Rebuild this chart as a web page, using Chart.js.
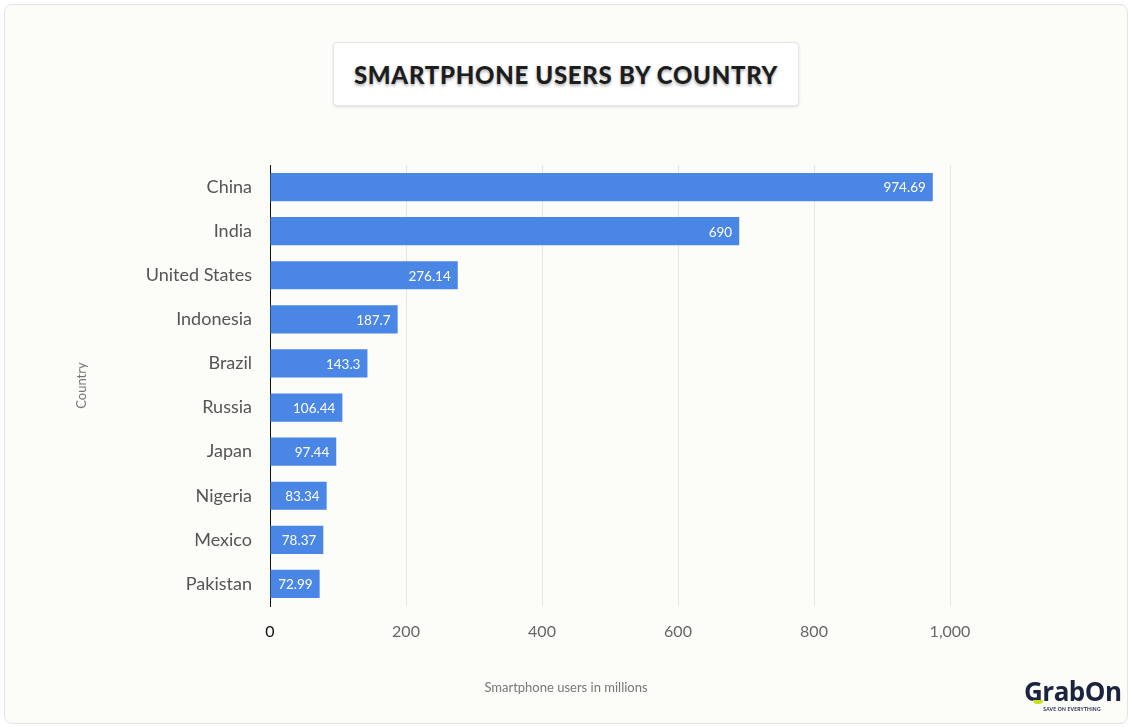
<!DOCTYPE html>
<html>
<head>
<meta charset="utf-8">
<script src="https://cdn.jsdelivr.net/npm/chart.js@4.4.1/dist/chart.umd.min.js"></script>
<style>
  html, body { margin: 0; padding: 0; background: #ffffff; }
  body { width: 1132px; height: 728px; position: relative; overflow: hidden; font-family: Lato, "Noto Sans", sans-serif; }
  .card { position: absolute; left: 4px; top: 4px; width: 1122px; height: 718px; background: #fcfcf8; border: 1px solid #e4e4e0; border-radius: 8px; }
  .title { position: absolute; left: 333px; top: 42px; width: 464px; height: 62px; background: #fff; border: 1px solid #e6e6e6; border-radius: 4px; box-shadow: 0 1px 3px rgba(0,0,0,0.12); display: flex; align-items: center; justify-content: center; font-weight: 900; font-size: 24px; color: #1d1d1d; letter-spacing: 0.7px; text-shadow: 0 2px 3px rgba(0,0,0,0.3); }
  canvas { position: absolute; left: 0; top: 0; }
  .xtitle { position: absolute; left: 0; width: 1132px; top: 679px; text-align: center; font-size: 13px; color: #777; }
  .logo { position: absolute; left: 1024px; top: 678px; width: 96px; text-align: center; }
  .logo .name { font-family: "Open Sans", sans-serif; font-weight: 700; font-size: 26px; color: #1c2340; line-height: 27px; letter-spacing: -0.5px; }
  .logo .tag { font-size: 5px; font-weight: 700; color: #1c2340; letter-spacing: 0.2px; margin-top: 1px; }
  .logo .dot { position: absolute; left: 9px; top: 22px; width: 10px; height: 4px; border-radius: 0 0 6px 6px; background: #c8e01e; }
</style>
</head>
<body>
<div class="card"></div>
<div class="title">SMARTPHONE USERS BY COUNTRY</div>
<canvas id="chart" width="1132" height="728"></canvas>
<div class="xtitle">Smartphone users in millions</div>
<div class="logo"><div class="name">GrabOn</div><div class="dot"></div><div class="tag">SAVE ON EVERYTHING</div></div>
<script>
const countries = ['China', 'India', 'United States', 'Indonesia', 'Brazil', 'Russia', 'Japan', 'Nigeria', 'Mexico', 'Pakistan'];
const users = [974.69, 690, 276.14, 187.7, 143.3, 106.44, 97.44, 83.34, 78.37, 72.99];
const xTicks = [0, 200, 400, 600, 800, 1000];

// draws the value inside the end of each bar
const barLabels = {
    id: 'barLabels',
    afterDatasetsDraw(chart) {
        const ctx = chart.ctx;
        const meta = chart.getDatasetMeta(0);
        ctx.save();
        ctx.font = '13.5px Lato, "Noto Sans", sans-serif';
        ctx.fillStyle = '#ffffff';
        ctx.textAlign = 'right';
        ctx.textBaseline = 'middle';
        meta.data.forEach((bar, i) => {
            ctx.fillText(users[i].toLocaleString('en-US', { maximumFractionDigits: 2 }), bar.x - 7, bar.y + 1);
        });
        ctx.restore();
    }
};

const ctx = document.getElementById('chart').getContext('2d');
new Chart(ctx, {
    type: 'bar',
    data: {
        labels: countries,
        datasets: [{
            label: 'Smartphone users',
            data: users,
            backgroundColor: '#4a86e6',
            borderWidth: 0,
            categoryPercentage: 1,
            barPercentage: 0.64
        }]
    },
    options: {
        indexAxis: 'y',
        responsive: false,
        animation: false,
        layout: { padding: { left: 70, right: 182, top: 165, bottom: 28 } },
        plugins: {
            legend: { display: false },
            tooltip: { enabled: false }
        },
        scales: {
            x: {
                min: 0,
                max: 1000,
                afterBuildTicks: scale => { scale.ticks = xTicks.map(v => ({ value: v })); },
                afterFit: scale => { scale.height = 94; },
                grid: { color: '#e6e6e6', drawTicks: false },
                border: { display: false },
                ticks: {
                    padding: 16,
                    font: { family: 'Lato', size: 16 },
                    color: ctx => ctx.tick.value === 0 ? '#111111' : '#666666',
                    callback: v => v.toLocaleString('en-US')
                }
            },
            y: {
                afterFit: scale => { scale.width = 200; },
                grid: { display: false, drawTicks: false },
                border: { display: true, color: '#111111', width: 1 },
                ticks: {
                    padding: 18,
                    font: { family: 'Lato', size: 18 },
                    color: '#555555'
                },
                title: {
                    display: true,
                    text: 'Country',
                    color: '#777777',
                    font: { family: 'Lato', size: 13 },
                    padding: 4
                }
            }
        }
    },
    plugins: [barLabels]
});
</script>
</body>
</html>
